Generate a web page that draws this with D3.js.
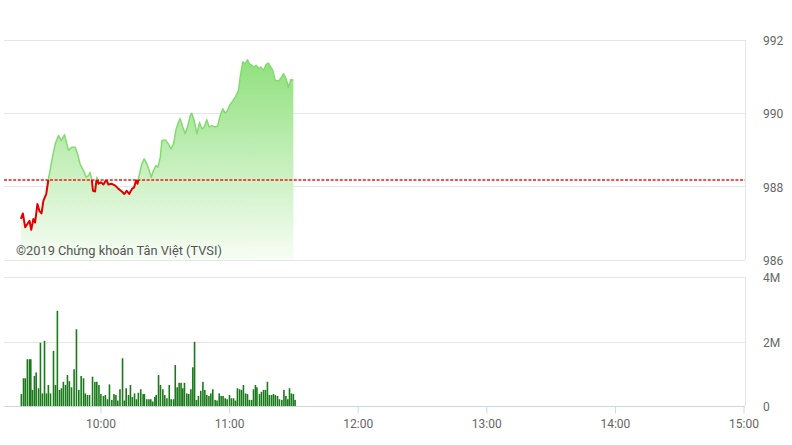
<!DOCTYPE html>
<html>
<head>
<meta charset="utf-8">
<script src="https://cdnjs.cloudflare.com/ajax/libs/d3/7.8.5/d3.min.js"></script>
<style>
  html, body { margin: 0; padding: 0; background: #fff; }
  svg { display: block; font-family: Roboto, "Noto Sans", sans-serif; }
</style>
</head>
<body>
<svg id="chart" width="792" height="445"></svg>
<script>
// ---- DATA ----
// Minutes after 09:00 for each price point
const priceMinutes = [
  22.9, 23.8, 24.9, 25.9, 26.9, 27.7, 28.7, 29.5, 30.6, 31.5,
  32.5, 33.4, 34.7, 35.7, 37.3, 38.9, 40.4, 41.7, 43.2, 44.3,
  45.1, 46.7, 48.2, 49.3, 50.5, 52.1, 53.3, 54.4, 55.2, 56.0,
  56.5, 57.5, 58.3, 59.1, 60.2, 61.4, 62.7, 63.7, 65.3, 66.9,
  68.4, 70.0, 71.1, 72.3, 73.4, 74.7, 75.7, 76.7, 77.3, 78.2,
  79.3, 80.4, 81.7, 82.7, 83.7, 84.7, 85.9, 86.8, 87.9, 88.7,
  90.2, 91.7, 92.9, 94.1, 95.3, 96.4, 97.2, 98.4, 99.5, 100.6,
  101.9, 102.6, 103.7, 105.0, 106.2, 107.3, 108.4, 109.6, 110.7, 112.0,
  113.5, 114.6, 115.9, 117.1, 118.2, 119.3, 120.2, 121.3, 122.9, 124.4,
  125.2, 126.4, 127.5, 128.6, 129.5, 130.6, 131.7, 132.6, 133.7, 134.8,
  136.1, 137.3, 138.4, 139.5, 140.4, 141.5, 143.1, 144.6, 145.4, 146.6,
  147.7, 148.8, 150.0
];
const priceValues = [
  987.11, 987.26, 986.88, 986.97, 987.06, 986.81, 987.11, 987.01, 987.52, 987.33,
  987.26, 987.61, 987.79, 988.18, 988.70, 989.16, 989.39, 989.25, 989.41, 989.16,
  988.99, 989.07, 989.07, 988.89, 988.61, 988.43, 988.25, 988.29, 988.38, 988.16,
  987.88, 987.86, 988.25, 988.07, 988.11, 988.05, 988.18, 988.05, 988.07, 988.02,
  987.93, 987.86, 987.79, 987.88, 987.79, 987.93, 987.97, 988.18, 988.07, 988.34,
  988.61, 988.75, 988.61, 988.43, 988.25, 988.43, 988.57, 988.52, 988.79, 989.25,
  989.27, 989.16, 989.02, 989.16, 989.57, 989.75, 989.85, 989.62, 989.44, 989.62,
  989.94, 990.00, 989.80, 989.44, 989.75, 989.57, 989.62, 989.82, 989.62, 989.66,
  989.62, 989.64, 989.94, 990.12, 990.00, 990.07, 990.21, 990.30, 990.44, 990.62,
  990.99, 991.40, 991.35, 991.46, 991.35, 991.31, 991.26, 991.31, 991.22, 991.26,
  991.17, 991.33, 991.37, 991.26, 991.17, 990.90, 990.88, 990.99, 991.08, 990.94,
  990.71, 990.92, 990.90
];
const refPrice = 988.18;

// Minutes after 09:00 for each volume bar, and volume in millions
const volMinutes = [
  23.1, 24.1, 24.9, 25.9, 26.9, 27.5, 28.3, 29.2, 30.0, 31.1,
  32.0, 32.9, 33.9, 34.8, 35.7, 36.7, 38.1, 39.0, 39.9, 40.9,
  41.8, 42.7, 43.7, 44.6, 45.5, 46.5, 47.7, 48.8, 49.9, 51.0,
  52.1, 52.9, 53.9, 54.9, 56.3, 57.4, 58.3, 59.3, 60.2, 61.4,
  62.3, 63.3, 64.2, 65.3, 66.3, 67.2, 68.1, 69.1, 70.3, 71.2,
  72.0, 73.1, 74.0, 74.9, 75.9, 76.8, 77.7, 78.8, 79.9, 80.5,
  81.6, 82.6, 83.5, 84.4, 85.4, 86.0, 87.1, 88.0, 89.1, 90.0,
  91.0, 92.1, 93.0, 94.1, 94.9, 95.8, 96.7, 97.6, 98.4, 99.2,
  100.3, 101.2, 102.2, 103.1, 103.9, 104.8, 105.7, 106.8, 107.8, 108.7,
  109.6, 110.6, 111.5, 112.4, 113.5, 114.4, 115.4, 116.3, 117.2, 118.2,
  119.1, 120.2, 121.1, 122.1, 123.0, 123.9, 124.9, 125.8, 126.7, 127.7,
  128.6, 129.5, 130.5, 131.4, 132.3, 133.0, 134.2, 135.1, 136.1, 137.0,
  137.9, 138.8, 139.8, 140.7, 141.6, 142.6, 143.5, 144.6, 145.6, 146.5,
  147.4, 148.2, 149.1, 150.0, 150.8
];
const volValues = [
  0.37, 0.86, 0.86, 1.45, 1.45, 1.45, 0.50, 0.93, 1.04, 0.55,
  1.96, 0.39, 2.02, 0.39, 0.65, 0.39, 1.71, 0.65, 2.95, 0.50,
  0.55, 0.75, 0.65, 0.96, 0.77, 0.58, 1.14, 2.38, 0.50, 0.93,
  0.86, 0.39, 0.34, 0.34, 0.91, 0.75, 0.75, 0.65, 0.37, 0.31,
  0.34, 0.21, 0.67, 0.19, 0.37, 0.34, 0.17, 0.52, 1.48, 0.17,
  0.55, 0.34, 0.65, 0.28, 0.39, 0.21, 0.41, 0.52, 0.37, 0.37,
  0.21, 0.21, 0.21, 0.14, 0.28, 0.34, 0.96, 0.65, 0.52, 0.34,
  0.24, 0.65, 0.21, 0.21, 1.27, 0.58, 0.72, 0.72, 0.55, 0.72,
  0.39, 0.37, 0.52, 1.20, 1.99, 0.19, 0.31, 0.47, 0.75, 0.50,
  0.34, 0.31, 0.39, 0.52, 0.19, 0.17, 0.39, 0.31, 0.31, 0.24,
  0.21, 0.34, 0.24, 0.24, 0.17, 0.55, 0.52, 0.50, 0.65, 0.39,
  0.37, 0.19, 0.19, 0.52, 0.65, 0.58, 0.37, 0.44, 0.50, 0.50,
  0.75, 0.34, 0.34, 0.37, 0.34, 0.31, 0.21, 0.19, 0.50, 0.31,
  0.21, 0.55, 0.39, 0.37, 0.19
];

const priceTicks = [986, 988, 990, 992];
const volTicks = [0, 2, 4];
const volTickLabels = ["0", "2M", "4M"];
const timeTickLabels = ["10:00", "11:00", "12:00", "13:00", "14:00", "15:00"];
const sessionStart = "09:15";
const sessionEnd = "15:00";
const watermark = "©2019 Chứng khoán Tân Việt (TVSI)";

// ---- HELPERS ----
const day = new Date(2019, 0, 2, 9, 0, 0);
const atMinutes = m => new Date(day.getTime() + m * 60000);
const parseHM = s => { const [h, mm] = s.split(":").map(Number); return new Date(2019, 0, 2, h, mm, 0); };

const priceData = priceMinutes.map((m, i) => ({ t: atMinutes(m), v: priceValues[i] }));
const volData = volMinutes.map((m, i) => ({ t: atMinutes(m), v: volValues[i] }));

// ---- LAYOUT ----
const svg = d3.select("#chart");
const left = 4, right = 743.5, border = 745;
const pTop = 40, pBottom = 259.5;
const vTop = 277, vBottom = 406;
const gridColor = "#e6e6e6";
const axisColor = "#ccd6eb";
const labelColor = "#666666";

const x = d3.scaleTime().domain([parseHM(sessionStart), parseHM(sessionEnd)]).range([left, right]);
const yP = d3.scaleLinear().domain([986, 992]).range([pBottom, pTop]);
const yV = d3.scaleLinear().domain([0, 4]).range([vBottom, vTop]);
const refY = Math.round(yP(refPrice));

const defs = svg.append("defs");
const grad = defs.append("linearGradient").attr("id", "areaGrad")
  .attr("gradientUnits", "userSpaceOnUse")
  .attr("x1", 0).attr("x2", 0).attr("y1", yP(991.5)).attr("y2", yP(986));
grad.append("stop").attr("offset", 0).attr("stop-color", "#8fe07c");
grad.append("stop").attr("offset", 1).attr("stop-color", "#f7fdf5");

defs.append("clipPath").attr("id", "clipAbove").append("rect")
  .attr("x", 0).attr("y", 0).attr("width", 792).attr("height", yP(refPrice));
defs.append("clipPath").attr("id", "clipBelow").append("rect")
  .attr("x", 0).attr("y", yP(refPrice)).attr("width", 792).attr("height", 445 - yP(refPrice));

// ---- PRICE PANEL ----
svg.append("g").selectAll("line").data(priceTicks).join("line")
  .attr("x1", left).attr("x2", border)
  .attr("y1", d => Math.round(yP(d)) + 0.5).attr("y2", d => Math.round(yP(d)) + 0.5)
  .attr("stroke", gridColor).attr("stroke-width", 1);

svg.append("line")
  .attr("x1", border + 0.5).attr("x2", border + 0.5)
  .attr("y1", yP(992)).attr("y2", yP(986))
  .attr("stroke", gridColor);

svg.append("g").selectAll("text").data(priceTicks).join("text")
  .attr("x", 763).attr("y", d => yP(d) + 2)
  .attr("dominant-baseline", "middle")
  .attr("font-size", 12).attr("fill", labelColor)
  .text(d => d);

const area = d3.area().x(d => x(d.t)).y0(yP(986)).y1(d => yP(d.v));
svg.append("path").datum(priceData).attr("d", area).attr("fill", "url(#areaGrad)");

svg.append("line")
  .attr("x1", left).attr("x2", border)
  .attr("y1", refY).attr("y2", refY)
  .attr("stroke", "#f01818").attr("stroke-width", 1.5).attr("stroke-dasharray", "3,1.6");

const line = d3.line().x(d => x(d.t)).y(d => yP(d.v));
svg.append("path").datum(priceData).attr("d", line)
  .attr("fill", "none").attr("stroke", "#84da70").attr("stroke-width", 1.5)
  .attr("stroke-linejoin", "round").attr("clip-path", "url(#clipAbove)");
svg.append("path").datum(priceData).attr("d", line)
  .attr("fill", "none").attr("stroke", "#e00000").attr("stroke-width", 2)
  .attr("stroke-linejoin", "round").attr("clip-path", "url(#clipBelow)");

svg.append("text").attr("x", 16).attr("y", 255)
  .attr("font-size", 12.8).attr("fill", "#555555").text(watermark);

// ---- VOLUME PANEL ----
svg.append("g").selectAll("line").data(volTicks.filter(d => d > 0)).join("line")
  .attr("x1", left).attr("x2", border)
  .attr("y1", d => Math.round(yV(d)) + 0.5).attr("y2", d => Math.round(yV(d)) + 0.5)
  .attr("stroke", gridColor);

svg.append("line")
  .attr("x1", border + 0.5).attr("x2", border + 0.5)
  .attr("y1", yV(4)).attr("y2", yV(0))
  .attr("stroke", gridColor);

svg.append("g").selectAll("rect").data(volData).join("rect")
  .attr("x", d => x(d.t) - 0.8).attr("width", 1.6)
  .attr("y", d => yV(d.v)).attr("height", d => yV(0) - yV(d.v))
  .attr("fill", "#1a7a1a");

svg.append("g").selectAll("text").data(volTicks).join("text")
  .attr("x", 763).attr("y", d => yV(d) + 2)
  .attr("dominant-baseline", "middle")
  .attr("font-size", 12).attr("fill", labelColor)
  .text((d, i) => volTickLabels[i]);

// time axis
const xAxis = d3.axisBottom(x)
  .tickValues(timeTickLabels.map(parseHM))
  .tickFormat(d3.timeFormat("%H:%M"))
  .tickSize(7).tickPadding(6);
const gx = svg.append("g").attr("transform", `translate(0,${vBottom + 0.5})`).call(xAxis);
gx.select(".domain").attr("d", `M${left},0H${border}`).attr("stroke", axisColor);
gx.selectAll(".tick line").attr("stroke", axisColor);
gx.selectAll(".tick text").attr("font-size", 12).attr("fill", labelColor)
  .attr("font-family", "Roboto, 'Noto Sans', sans-serif");
</script>
</body>
</html>
